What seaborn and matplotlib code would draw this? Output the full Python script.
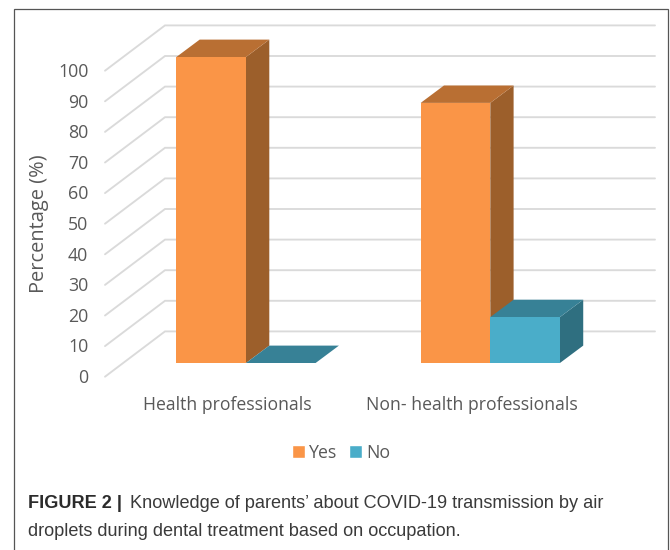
import matplotlib
matplotlib.use("Agg")
import matplotlib.pyplot as plt
from matplotlib.patches import Polygon, Rectangle
from matplotlib.transforms import ScaledTranslation
import pandas as pd
import seaborn as sns

categories = ["Health professionals", "Non- health professionals"]
yes_values = [100, 85]
no_values = [0, 15]
y_ticks = [0, 10, 20, 30, 40, 50, 60, 70, 80, 90, 100]
series_names = ["Yes", "No"]

W, H = 670, 550
PX_X = 244.3   # pixels per category
PX_Y = 3.06    # pixels per percent
BAR_DX, BAR_DY = 23.3 / PX_X, 17.4 / PX_Y        # bar depth
FRONT_DY = 13.7 / PX_Y                           # floor front edge to bar plane
WALL_DX, WALL_DY = 60.0 / PX_X, 45.3 / PX_Y      # floor front edge to back wall

sns.set_theme(style="white")
plt.rcParams["font.family"] = ["Open Sans", "DejaVu Sans"]

fig = plt.figure(figsize=(W / 100, H / 100), dpi=100, facecolor="white")
ax = fig.add_axes([105 / W, 1 - 377 / H, 550 / W, 352 / H])

df = pd.DataFrame({
    "group": categories * 2,
    "series": [series_names[0]] * 2 + [series_names[1]] * 2,
    "value": yes_values + no_values,
})
face = {"Yes": "#FA9547", "No": "#4AADC9"}
top = {"Yes": "#B96F33", "No": "#378196"}
side = {"Yes": "#9C5F2B", "No": "#2F6F80"}

sns.barplot(data=df, x="group", y="value", hue="series", palette=face,
            width=0.57, gap=0, saturation=1, errorbar=None, ax=ax,
            hue_order=series_names, order=categories)

ax.set_xlim((105 - 246) / PX_X, (655 - 246) / PX_X)
ax.set_ylim((363 - 377) / PX_Y, (363 - 25) / PX_Y)
xmin, xmax = ax.get_xlim()

# Gridlines: side wall diagonal, then along the back wall
for v in y_ticks:
    front_y = v - FRONT_DY
    ax.plot([xmin, xmin + WALL_DX, xmax],
            [front_y, front_y + WALL_DY, front_y + WALL_DY],
            color="#DADADA", lw=1.35, zorder=1, clip_on=False,
            solid_joinstyle="miter")

# Extruded faces of every bar
for i, (name, cont) in enumerate(zip(series_names, ax.containers)):
    base_z = 3 + 3 * i
    for bar in cont:
        x0, w, h = bar.get_x(), bar.get_width(), bar.get_height()
        x1 = x0 + w
        bar.set_zorder(base_z + 2)
        bar.set_linewidth(0)
        ax.add_patch(Polygon([(x1, 0), (x1 + BAR_DX, BAR_DY), (x1 + BAR_DX, h + BAR_DY), (x1, h)],
                             closed=True, fc=side[name], ec="none", zorder=base_z))
        ax.add_patch(Polygon([(x0, h), (x1, h), (x1 + BAR_DX, h + BAR_DY), (x0 + BAR_DX, h + BAR_DY)],
                             closed=True, fc=top[name], ec="none", zorder=base_z + 1))

for s in ax.spines.values():
    s.set_visible(False)
ax.grid(False)
ax.set_xlabel("")
ax.set_yticks(y_ticks)
ax.set_yticklabels([str(v) for v in y_ticks])
ax.tick_params(axis="y", length=0, pad=12, labelsize=12.8, labelcolor="#595959")
ax.tick_params(axis="x", length=0, pad=14, labelsize=12.7, labelcolor="#595959")
for lab in ax.get_yticklabels():
    lab.set_transform(lab.get_transform() + ScaledTranslation(0, -13 / 100, fig.dpi_scale_trans))
for lab in ax.get_xticklabels():
    lab.set_transform(lab.get_transform() + ScaledTranslation(-18.5 / 100, 0, fig.dpi_scale_trans))

ax.set_ylabel("Percentage (%)", fontsize=14.4, color="#595959")
ax.yaxis.set_label_coords((49 - 105) / 550, (377 - 224) / 352)

handles, labels = ax.get_legend_handles_labels()
ax.legend(handles, labels, ncol=2, frameon=False, loc="center",
          bbox_to_anchor=(341 / W, 1 - 453 / H), bbox_transform=fig.transFigure,
          fontsize=12.8, labelcolor="#595959", handlelength=0.72, handleheight=0.72,
          handletextpad=0.22, columnspacing=0.7)

# Panel frame
fig.add_artist(Rectangle((14 / W, -0.02), (668 - 14) / W, 1.02 - 9 / H, transform=fig.transFigure,
                         fc="none", ec="#555555", lw=0.9))

# Caption
cap = "#3A3A3A"
fig.text(28.5 / W, 1 - 503 / H, "FIGURE 2 |", fontsize=13.05, fontweight="bold", color="#2B2B2B",
         family="Liberation Sans", va="center")
fig.text(129.5 / W, 1 - 503 / H, "Knowledge of parents\u2019 about COVID-19 transmission by air",
         fontsize=13.05, color=cap, family="Liberation Sans", va="center")
fig.text(28.5 / W, 1 - 531 / H, "droplets during dental treatment based on occupation.",
         fontsize=13.05, color=cap, family="Liberation Sans", va="center")

fig.savefig("out.png", dpi=100)
